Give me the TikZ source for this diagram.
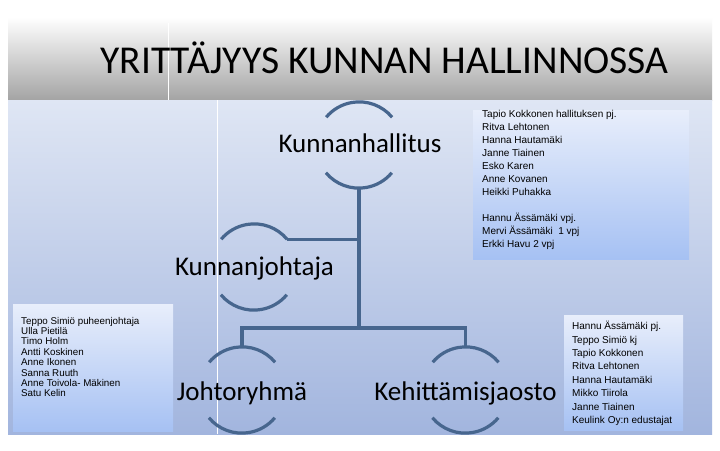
\documentclass[tikz,border=0pt]{standalone}
\usepackage{fontspec}
\setmainfont{Carlito}
\newfontfamily\listfont{Liberation Sans}
\definecolor{linkblue}{HTML}{47668E}
\definecolor{headtop}{HTML}{FFFFFF}
\definecolor{headbottom}{HTML}{A4A4A4}
\definecolor{bodytop}{HTML}{DFE6F4}
\definecolor{bodybottom}{HTML}{A2B5DE}
\definecolor{boxtop}{HTML}{E8EEFB}
\definecolor{boxbottom}{HTML}{A6C1F3}
\begin{document}
\begin{tikzpicture}[x=1pt, y=1pt,
	ring/.style={circle, inner sep=0, minimum size=86},
	orgname/.style={anchor=base, inner sep=0, font=\fontsize{27}{30}\selectfont},
	arcline/.style={draw=linkblue, line width=3.2},
	conn/.style={draw=linkblue, line width=3.2},
	memberbox/.style={top color=boxtop, bottom color=boxbottom, draw=none},
	memberlist/.style={anchor=north west, align=left, inner sep=0, font=\listfont\fontsize{10}{13}\selectfont}]
		\useasboundingbox[fill=white] (0,0) rectangle (720,-450);
		\shade[top color=headtop, bottom color=headbottom] (8,-17) rectangle (712,-100);
		\shade[top color=bodytop, bottom color=bodybottom] (8,-100) rectangle (712,-434);
		\draw[white, line width=1] (168,-23) -- (168,-100);
		\draw[white, line width=1] (217,-100) -- (217,-434);
		\node (title) [anchor=base, inner sep=0, font=\fontsize{39.5}{44}\selectfont] at (384.5,-73) {YRITTÄJYYS KUNNAN HALLINNOSSA};

		\shade[memberbox] (473,-110) rectangle (689,-259);
		\shade[memberbox] (13,-304) rectangle (173,-431);
		\shade[memberbox] (564,-315) rectangle (683,-430);
		\node (hallitus) [memberlist] at (482,-110.2) {Tapio Kokkonen hallituksen pj.\\Ritva Lehtonen\\Hanna Hautamäki\\Janne Tiainen\\Esko Karen\\Anne Kovanen\\Heikki Puhakka\\[13pt]Hannu Ässämäki vpj.\\Mervi Ässämäki\ \ 1 vpj\\Erkki Havu 2 vpj};
		\node (johtoryhma) [memberlist, font=\listfont\fontsize{9.8}{10.4}\selectfont] at (21,-316.8) {Teppo Simiö puheenjohtaja\\Ulla Pietilä\\Timo Holm\\Antti Koskinen\\Anne Ikonen\\Sanna Ruuth\\Anne Toivola- Mäkinen\\Satu Kelin};
		\node (jaosto) [memberlist, font=\listfont\fontsize{10}{13.4}\selectfont] at (572,-321.2) {Hannu Ässämäki pj.\\Teppo Simiö kj\\Tapio Kokkonen\\Ritva Lehtonen\\Hanna Hautamäki\\Mikko Tiirola\\Janne Tiainen\\Keulink Oy:n edustajat};

		\node (khring) [ring] at (359,-145) {};
		\node (kjring) [ring] at (254,-267) {};
		\node (jrring) [ring] at (242,-390) {};
		\node (kering) [ring] at (465.5,-390) {};
		\coordinate (fork) at (359,-328);
		\foreach \r in {khring, kjring, jrring, kering} {
			\draw[arcline] (\r.40) arc (40:140:43);
			\draw[arcline] (\r.220) arc (220:320:43);
		}
		\draw[conn] (khring.south) -- (fork);
		\draw[conn] (kjring.40) -- (kjring.40 -| fork);
		\draw[conn] (jrring.north) -- (jrring.north |- fork) -- (kering.north |- fork) -- (kering.north);

		\node (kh) [orgname] at (360,-152) {Kunnanhallitus};
		\node (kj) [orgname] at (254.5,-275) {Kunnanjohtaja};
		\node (jr) [orgname] at (242,-400) {Johtoryhmä};
		\node (ke) [orgname] at (465.5,-400) {Kehittämisjaosto};
\end{tikzpicture}
\end{document}
